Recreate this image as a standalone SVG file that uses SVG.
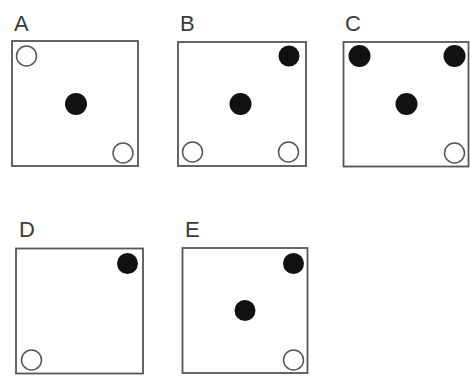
<svg xmlns="http://www.w3.org/2000/svg" width="470" height="380" viewBox="0 0 470 380">
<style>
.box{fill:#fff;stroke:#555;stroke-width:1.8}
.lbl{font-family:"Liberation Sans",Arial,sans-serif;font-size:22px;fill:#3a3a3a}
.dot{fill:#111}
.ring{fill:#fff;stroke:#555;stroke-width:1.5}
</style>
<rect width="470" height="380" fill="#fff"/>
<g id="panel-A">
<text class="lbl" x="14" y="31">A</text>
<rect class="box" x="12" y="41" width="126" height="125"/>
<circle class="ring" cx="26.5" cy="56" r="10"/>
<circle class="dot" cx="76" cy="104" r="11"/>
<circle class="ring" cx="123" cy="153" r="10"/>
</g>
<g id="panel-B">
<text class="lbl" x="180" y="31">B</text>
<rect class="box" x="178" y="42" width="128" height="124"/>
<circle class="dot" cx="289" cy="56" r="10.5"/>
<circle class="dot" cx="240.5" cy="104" r="11"/>
<circle class="ring" cx="192.5" cy="152" r="10"/>
<circle class="ring" cx="288.5" cy="152" r="10"/>
</g>
<g id="panel-C">
<text class="lbl" x="345" y="31">C</text>
<rect class="box" x="343.5" y="42" width="125" height="124.5"/>
<circle class="dot" cx="359.5" cy="56" r="11"/>
<circle class="dot" cx="454.5" cy="56" r="11"/>
<circle class="dot" cx="406.5" cy="104" r="11"/>
<circle class="ring" cx="454.5" cy="153" r="10"/>
</g>
<g id="panel-D">
<text class="lbl" x="19" y="237">D</text>
<rect class="box" x="16" y="248.5" width="127" height="125"/>
<circle class="dot" cx="127.5" cy="263.5" r="10.5"/>
<circle class="ring" cx="31.5" cy="360" r="10"/>
</g>
<g id="panel-E">
<text class="lbl" x="185" y="237">E</text>
<rect class="box" x="182.5" y="248" width="125" height="125"/>
<circle class="dot" cx="293.5" cy="263.5" r="10.5"/>
<circle class="dot" cx="245" cy="310.5" r="10.5"/>
<circle class="ring" cx="293.5" cy="360" r="10"/>
</g>
<g id="connectors"/>
</svg>
